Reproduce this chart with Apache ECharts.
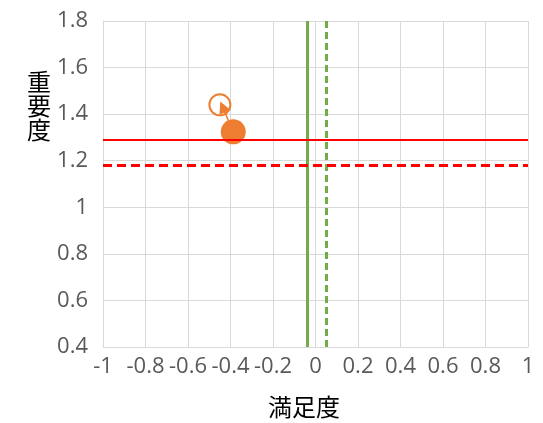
<!DOCTYPE html>
<html>
<head>
<meta charset="utf-8">
<script src="https://cdn.jsdelivr.net/npm/echarts@6/dist/echarts.min.js"></script>
<style>html,body{margin:0;padding:0;background:#fff}#c{width:543px;height:423px}</style>
</head>
<body>
<div id="c"></div>
<script>
// data
var xAxisTitle = '満足度';
var yAxisTitle = '重要度';
var previousPoint = [-0.45, 1.44];   // hollow circle
var currentPoint = [-0.387, 1.324];  // filled circle
var arrowTip = [-0.437, 1.431];
var satisfactionRefLines = [-0.043, 0.048]; // solid, dashed (green)
var importanceRefLines = [1.288, 1.181];    // solid, dashed (red)

var chart = echarts.init(document.getElementById('c'));
var FONT = '"Noto Sans CJK JP", "Noto Sans", sans-serif';
var NUMFONT = '"Open Sans", "Noto Sans", sans-serif';
var option = {
  animation: false,
  grid: { left: 103, right: 15, top: 21, bottom: 76 },
  xAxis: {
    type: 'value', min: -1, max: 1, interval: 0.2,
    axisLine: { show: true, onZero: false, lineStyle: { color: '#d9d9d9' } },
    axisTick: { show: false },
    splitLine: { show: true, lineStyle: { color: '#d9d9d9', width: 1 } },
    axisLabel: { color: '#595959', fontSize: 22, fontFamily: NUMFONT, margin: 9, interval: 0,
      formatter: function (v) { return String(Math.round(v * 10) / 10); } }
  },
  yAxis: {
    type: 'value', min: 0.4, max: 1.8, interval: 0.2,
    axisLine: { show: true, onZero: false, lineStyle: { color: '#d9d9d9' } },
    axisTick: { show: false },
    splitLine: { show: true, lineStyle: { color: '#d9d9d9', width: 1 } },
    axisLabel: { color: '#595959', fontSize: 22, fontFamily: NUMFONT, margin: 15,
      formatter: function (v) { return String(Math.round(v * 10) / 10); } }
  },
  graphic: [
    { type: 'text', left: 268, top: 395, style: { text: xAxisTitle, fontSize: 24, fontFamily: FONT, fill: '#000' } },
    { type: 'text', left: 27, top: 70, style: { text: yAxisTitle.split('').join('\n'), fontSize: 24, lineHeight: 24, fontFamily: FONT, fill: '#000' } }
  ],
  series: [
    {
      type: 'scatter', z: 2,
      data: [previousPoint],
      symbolSize: 21,
      itemStyle: { color: '#fff', borderColor: '#ED7D31', borderWidth: 2, opacity: 1 },
      markLine: {
        silent: true, symbol: 'none', label: { show: false },
        data: [
          { xAxis: satisfactionRefLines[0], lineStyle: { color: '#70AD47', width: 3, type: 'solid', opacity: 1 } },
          { xAxis: satisfactionRefLines[1], lineStyle: { color: '#70AD47', width: 3, type: [7, 4], opacity: 1 } },
          { yAxis: importanceRefLines[0], lineStyle: { color: '#FF0000', width: 2, type: 'solid', opacity: 1 } },
          { yAxis: importanceRefLines[1], lineStyle: { color: '#FF0000', width: 3, type: [9, 5], opacity: 1 } }
        ]
      }
    },
    {
      type: 'lines', coordinateSystem: 'cartesian2d', z: 3,
      symbol: ['none', 'triangle'], symbolSize: [0, 12],
      lineStyle: { color: '#ED7D31', width: 1.5, opacity: 1 },
      data: [{ coords: [currentPoint, arrowTip] }]
    },
    {
      type: 'scatter', z: 4,
      data: [currentPoint],
      symbolSize: 25,
      itemStyle: { color: '#ED7D31', opacity: 1 }
    }
  ]
};
chart.setOption(option);
</script>
</body>
</html>
